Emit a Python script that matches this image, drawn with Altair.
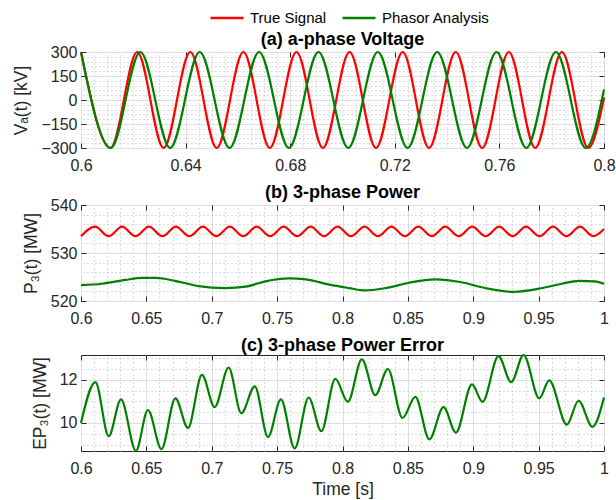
import altair as alt
import pandas as pd

# ---------------- data ----------------
series_names = ["True Signal", "Phasor Analysis"]
series_colors = ["#ff0000", "#008000"]

# (a) a-phase voltage [kV]
a_true_t = [0.6000, 0.6113, 0.6215, 0.6316, 0.6418, 0.6519, 0.6621, 0.6722, 0.6824, 0.6925,
            0.7027, 0.7128, 0.7230, 0.7331, 0.7433, 0.7534, 0.7636, 0.7737, 0.7839, 0.7940, 0.8000]
a_true_v = [300, -300, 300, -300, 300, -300, 300, -300, 300, -300,
            300, -300, 300, -300, 300, -300, 300, -300, 300, -300, 16]
a_ph_t = [0.6000, 0.6114, 0.6227, 0.6341, 0.6454, 0.6568, 0.6681, 0.6795, 0.6908, 0.7022,
          0.7135, 0.7249, 0.7362, 0.7476, 0.7589, 0.7703, 0.7816, 0.7930, 0.8000]
a_ph_v = [300, -300, 300, -300, 300, -300, 300, -300, 300, -300,
          300, -300, 300, -300, 300, -300, 300, -300, 65]

# (b) 3-phase power [MW]
b_true_t = [0.6000, 0.6108, 0.6211, 0.6314, 0.6417, 0.6520, 0.6623, 0.6726, 0.6829, 0.6932,
            0.7035, 0.7138, 0.7241, 0.7344, 0.7447, 0.7550, 0.7653, 0.7756, 0.7859, 0.7962,
            0.8065, 0.8168, 0.8271, 0.8374, 0.8477, 0.8580, 0.8683, 0.8786, 0.8889, 0.8992,
            0.9095, 0.9198, 0.9301, 0.9404, 0.9507, 0.9610, 0.9713, 0.9816, 0.9919, 1.0000]
b_true_v = [533.5, 535.5, 533.5, 535.5, 533.5, 535.5, 533.5, 535.5, 533.5, 535.5,
            533.5, 535.5, 533.5, 535.5, 533.5, 535.5, 533.5, 535.5, 533.5, 535.5,
            533.5, 535.5, 533.5, 535.5, 533.5, 535.5, 533.5, 535.5, 533.5, 535.5,
            533.5, 535.5, 533.5, 535.5, 533.5, 535.5, 533.5, 535.5, 533.5, 535.0]
b_ph_t = [0.600, 0.616, 0.634, 0.647, 0.657, 0.672, 0.690, 0.710, 0.726, 0.741, 0.759, 0.772,
          0.790, 0.805, 0.817, 0.833, 0.851, 0.871, 0.891, 0.909, 0.931, 0.953, 0.968, 0.981,
          0.993, 1.000]
b_ph_v = [523.3, 523.6, 524.4, 524.8, 524.8, 524.2, 523.1, 522.7, 523.0, 524.1, 524.7, 524.5,
          523.4, 522.7, 522.2, 522.7, 523.8, 524.5, 523.9, 522.7, 521.9, 522.7, 523.6, 524.2,
          524.1, 523.6]

# (c) 3-phase power error [MW]
c_t = [0.6000, 0.6110, 0.6212, 0.6306, 0.6420, 0.6512, 0.6615, 0.6722, 0.6818, 0.6925,
       0.7022, 0.7129, 0.7226, 0.7329, 0.7430, 0.7529, 0.7634, 0.7741, 0.7838, 0.7945,
       0.8041, 0.8148, 0.8251, 0.8347, 0.8459, 0.8557, 0.8664, 0.8773, 0.8867, 0.8990,
       0.9071, 0.9193, 0.9290, 0.9385, 0.9505, 0.9581, 0.9716, 0.9805, 0.9912, 1.0000]
c_v = [10.00, 11.89, 9.39, 11.09, 8.71, 10.60, 8.79, 11.14, 9.77, 12.23,
       10.73, 12.57, 10.45, 11.70, 9.35, 11.09, 8.82, 11.18, 9.62, 12.05,
       10.98, 12.95, 11.29, 12.50, 10.23, 11.21, 9.24, 10.73, 9.55, 11.79,
       10.98, 13.10, 11.89, 13.15, 11.14, 11.97, 9.92, 11.03, 9.82, 11.18]

# axis ticks
a_xticks = [0.6, 0.64, 0.68, 0.72, 0.76, 0.8]
a_yticks = [-300, -150, 0, 150, 300]
bc_xticks = [0.6, 0.65, 0.7, 0.75, 0.8, 0.85, 0.9, 0.95, 1.0]
b_yticks = [520, 530, 540]
c_yticks = [10, 12]


def frame(ts, vs, name):
    return pd.DataFrame({"t": ts, "v": vs, "s": name})


df_a = pd.concat([frame(a_true_t, a_true_v, series_names[0]), frame(a_ph_t, a_ph_v, series_names[1])])
df_b = pd.concat([frame(b_true_t, b_true_v, series_names[0]), frame(b_ph_t, b_ph_v, series_names[1])])
df_c = frame(c_t, c_v, series_names[1])


def minor_vals(lo, hi, step, majors):
    n = int(round((hi - lo) / step))
    out = []
    for i in range(n + 1):
        v = round(lo + i * step, 6)
        if all(abs(v - m) > 1e-9 for m in majors):
            out.append(v)
    return out


FONT = "Liberation Sans"
W, H = 523, 96
TICK = 5
AXC = "#262626"

legend = alt.Legend(
    orient="none", legendX=128, legendY=-52, direction="horizontal", title=None,
    symbolType="stroke", symbolSize=1089, symbolStrokeWidth=2.5,
    labelFont=FONT, labelFontSize=15, labelColor="#000000", columnPadding=10,
    labelOffset=5,
)


def bare_axis(orient, values, **kw):
    return alt.Axis(orient=orient, values=values, labels=False, domain=False, title=None,
                    minExtent=0, maxExtent=0, **kw)


def panel(df, xdom, xticks, xfmt, xminor, ydom, yticks, yminor, ytitle, title, xtitle=None):
    xs = alt.Scale(domain=xdom, nice=False, zero=False)
    ys = alt.Scale(domain=ydom, nice=False, zero=False)
    # dotted minor grid
    minor = alt.Chart(df).mark_line(opacity=0).encode(
        x=alt.X("t:Q", scale=xs, axis=bare_axis("top", xminor, ticks=False, grid=True,
                                                gridDash=[1, 3], gridColor="#b8b8b8")),
        y=alt.Y("v:Q", scale=ys, axis=bare_axis("right", yminor, ticks=False, grid=True,
                                                gridDash=[1, 3], gridColor="#b8b8b8")),
    )
    # inward ticks on bottom/left
    ticks_bl = alt.Chart(df).mark_line(opacity=0).encode(
        x=alt.X("t:Q", scale=xs, axis=bare_axis("bottom", xticks, grid=False, ticks=True,
                                                tickSize=TICK, offset=-TICK, tickColor=AXC)),
        y=alt.Y("v:Q", scale=ys, axis=bare_axis("left", yticks, grid=False, ticks=True,
                                                tickSize=TICK, offset=-TICK, tickColor=AXC)),
    )
    # inward ticks on top/right
    ticks_tr = alt.Chart(df).mark_line(opacity=0).encode(
        x=alt.X("t:Q", scale=xs, axis=bare_axis("top", xticks, grid=False, ticks=True,
                                                tickSize=TICK, offset=-TICK, tickColor=AXC)),
        y=alt.Y("v:Q", scale=ys, axis=bare_axis("right", yticks, grid=False, ticks=True,
                                                tickSize=TICK, offset=-TICK, tickColor=AXC)),
    )
    xaxis_kw = dict(orient="bottom", values=xticks, format=xfmt, grid=True, labelFlush=False,
                    labelOverlap=False, labelPadding=9)
    if xtitle is not None:
        xaxis_kw["title"] = xtitle
        xaxis_kw["titlePadding"] = 4
    else:
        xaxis_kw["title"] = None
    main = alt.Chart(df).mark_line(interpolate="monotone", strokeWidth=2.2).encode(
        x=alt.X("t:Q", scale=xs, axis=alt.Axis(**xaxis_kw)),
        y=alt.Y("v:Q", scale=ys, axis=alt.Axis(
            orient="left", values=yticks, grid=True, labelFlush=False, labelOverlap=False,
            labelPadding=4, title=ytitle, titlePadding=10)),
        color=alt.Color("s:N", scale=alt.Scale(domain=series_names, range=series_colors),
                        legend=legend),
    )
    return alt.layer(minor, main, ticks_bl, ticks_tr).resolve_axis(
        x="independent", y="independent").properties(width=W, height=H, title=alt.Title(title))


pa = panel(df_a, [0.6, 0.8], a_xticks, ".2~f", minor_vals(0.6, 0.8, 0.005, a_xticks),
           [-300, 300], a_yticks, minor_vals(-300, 300, 30, a_yticks),
           "Vₐ(t) [kV]", "(a) a-phase Voltage")
pb = panel(df_b, [0.6, 1.0], bc_xticks, ".2~f", minor_vals(0.6, 1.0, 0.01, bc_xticks),
           [520, 540], b_yticks, minor_vals(520, 540, 2, b_yticks),
           "P₃(t) [MW]", "(b) 3-phase Power")
pc = panel(df_c, [0.6, 1.0], bc_xticks, ".2~f", minor_vals(0.6, 1.0, 0.01, bc_xticks),
           [8.7, 13.15], c_yticks, minor_vals(9.0, 13.0, 0.5, c_yticks),
           "EP₃(t) [MW]", "(c) 3-phase Power Error", xtitle="Time [s]")

chart = alt.vconcat(pa, pb, pc, spacing=9).resolve_scale(
    x="independent", y="independent", color="shared"
).resolve_legend(color="shared").properties(
    padding={"left": 12, "top": 0, "right": 0, "bottom": 3}
).configure_view(
    stroke=AXC, strokeWidth=1
).configure_axis(
    labelFont=FONT, titleFont=FONT, labelColor=AXC, titleColor=AXC,
    labelFontSize=16, titleFontSize=17.5, titleFontWeight="normal", domain=False,
    ticks=False, gridColor="#dedede", gridWidth=1,
).configure_title(
    font=FONT, fontSize=18, fontWeight="bold", color="#000000", offset=-4.5,
    anchor="middle", frame="group",
)

chart.save("out.html", embed_options={"renderer": "svg", "actions": False})
